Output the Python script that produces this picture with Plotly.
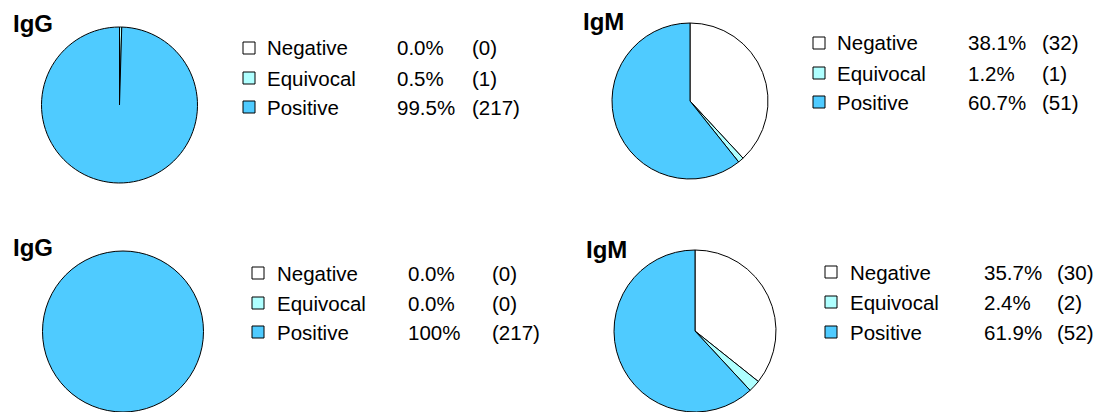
import plotly.graph_objects as go

W, H = 1107, 412

# ---- data ----
categories = ["Negative", "Equivocal", "Positive"]
panel_titles = ["IgG", "IgM", "IgG", "IgM"]
igg_top_counts = [0, 1, 217]
igm_top_counts = [32, 1, 51]
igg_bot_counts = [0, 0, 217]
igm_bot_counts = [30, 2, 52]
igg_top_pct = ["0.0%", "0.5%", "99.5%"]
igm_top_pct = ["38.1%", "1.2%", "60.7%"]
igg_bot_pct = ["0.0%", "0.0%", "100%"]
igm_bot_pct = ["35.7%", "2.4%", "61.9%"]

colors = ["#FFFFFF", "#AFFFFF", "#4FCBFF"]


def px(x):
    return x / W


def py(y):
    return 1 - y / H


panels = [
    dict(counts=igg_top_counts, pct=igg_top_pct, title=panel_titles[0],
         cx=119.5, cy=105, r=78, tx=13, ty=24,
         box=243, text=267, pctx=397, cnt=472, rows=[48, 78, 107]),
    dict(counts=igm_top_counts, pct=igm_top_pct, title=panel_titles[1],
         cx=690, cy=101, r=78, tx=583, ty=22,
         box=813, text=837, pctx=968, cnt=1042, rows=[43, 73, 102]),
    dict(counts=igg_bot_counts, pct=igg_bot_pct, title=panel_titles[2],
         cx=123, cy=331.5, r=80.5, tx=13, ty=248,
         box=252, text=277, pctx=408, cnt=492, rows=[273, 303, 332]),
    dict(counts=igm_bot_counts, pct=igm_bot_pct, title=panel_titles[3],
         cx=695, cy=331, r=81, tx=586, ty=250,
         box=825, text=850, pctx=984, cnt=1057, rows=[272, 302, 332]),
]

fig = go.Figure()
annotations = []
shapes = []
font_legend = dict(family="Liberation Sans, Arial", size=20.5, color="black")

for p in panels:
    fig.add_trace(go.Pie(
        labels=categories, values=p["counts"], sort=False, direction="clockwise",
        marker=dict(colors=colors, line=dict(color="black", width=1)),
        textinfo="none", hoverinfo="label+value+percent", showlegend=False,
        domain=dict(x=[px(p["cx"] - p["r"]), px(p["cx"] + p["r"])],
                    y=[max(0, py(p["cy"] + p["r"])), min(1, py(p["cy"] - p["r"]))]),
    ))
    annotations.append(dict(
        text="<b>%s</b>" % p["title"], x=px(p["tx"] - 2), y=py(p["ty"]),
        xref="paper", yref="paper", xanchor="left", yanchor="middle",
        showarrow=False, font=dict(family="Liberation Sans, Arial", size=24, color="black")))
    for i, cat in enumerate(categories):
        yc = p["rows"][i]
        shapes.append(dict(type="rect", xref="paper", yref="paper",
                           x0=px(p["box"]), x1=px(p["box"] + 12),
                           y0=py(yc - 6), y1=py(yc + 6),
                           line=dict(color="black", width=1), fillcolor=colors[i]))
        for xx, txt in [(p["text"], cat), (p["pctx"], p["pct"][i]),
                        (p["cnt"], "(%d)" % p["counts"][i])]:
            annotations.append(dict(
                text=txt, x=px(xx - 2), y=py(yc), xref="paper", yref="paper",
                xanchor="left", yanchor="middle", showarrow=False, font=font_legend))

fig.update_layout(
    width=W, height=H, margin=dict(l=0, r=0, t=0, b=0),
    paper_bgcolor="white", plot_bgcolor="white",
    annotations=annotations, shapes=shapes,
)

fig.write_html("out.html")
